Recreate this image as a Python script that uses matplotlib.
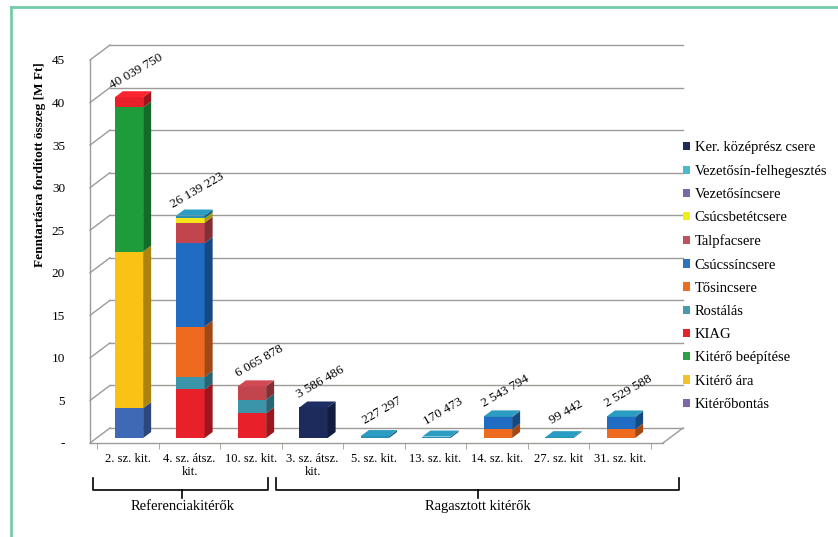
# -*- coding:utf-8 -*-
import numpy as np
import matplotlib
matplotlib.use('Agg')
import matplotlib.pyplot as plt
import matplotlib.transforms as mtransforms
import matplotlib.colors as mcolors
from matplotlib.patches import Polygon, Patch
from matplotlib.lines import Line2D

plt.rcParams['font.family'] = ['Liberation Serif', 'DejaVu Serif']

# kategóriák
categories = ['2. sz. kit.', '4. sz. átsz.\nkit.', '10. sz. kit.', '3. sz. átsz.\nkit.',
              '5. sz. kit.', '13. sz. kit.', '14. sz. kit.', '27. sz. kit', '31. sz. kit.']
totals_ft = [40039750, 26139223, 6065878, 3586486, 227297, 170473, 2543794, 99442, 2529588]

# értékek M Ft-ban (alulról felfelé rakva)
kiterobontas = [3.5, 0, 0, 0, 0, 0, 0, 0, 0]
kitero_ara = [18.4, 0, 0, 0, 0, 0, 0, 0, 0]
kitero_beepitese = [16.94, 0, 0, 0, 0, 0, 0, 0, 0]
kiag = [1.2, 5.7, 2.9, 0, 0, 0, 0, 0, 0]
rostalas = [0, 1.5, 1.6, 0, 0, 0, 0, 0, 0]
tosincsere = [0, 5.9, 0, 0, 0, 0, 1.0, 0, 1.0]
csucssincsere = [0, 9.8, 0, 0, 0, 0, 1.44, 0, 1.43]
talpfacsere = [0, 2.4, 1.57, 0, 0, 0, 0, 0, 0]
csucsbetetcsere = [0, 0.5, 0, 0, 0, 0, 0, 0, 0]
vezetosincsere = [0, 0, 0, 0, 0, 0, 0, 0, 0]
vezetosin_felheg = [0, 0.34, 0, 0, 0.227, 0.170, 0.10, 0.099, 0.10]
ker_kozepresz = [0, 0, 0, 3.586, 0, 0, 0, 0, 0]

series_names = ['Kitérőbontás', 'Kitérő ára', 'Kitérő beépítése', 'KIAG', 'Rostálás',
                'Tősincsere', 'Csúcssíncsere', 'Talpfacsere', 'Csúcsbetétcsere',
                'Vezetősíncsere', 'Vezetősín-felhegesztés', 'Ker. középrész csere']
series_values = [kiterobontas, kitero_ara, kitero_beepitese, kiag, rostalas, tosincsere,
                 csucssincsere, talpfacsere, csucsbetetcsere, vezetosincsere,
                 vezetosin_felheg, ker_kozepresz]
bar_colors = ['#3F68B5', '#FBC216', '#1E9C3C', '#E8202A', '#3A94AA', '#EE6A1E',
              '#1F6CC2', '#C2454E', '#F4E41A', '#7B66A8', '#2890B4', '#1C2A5C']
legend_colors = ['#7A68A8', '#F2C12E', '#2E9E4A', '#E8202A', '#4A9AAE', '#EE6A1E',
                 '#2A74C0', '#C0505A', '#F2EC1A', '#7B66A8', '#4BB8D0', '#1C2A5C']
ytick_labels = ['-', '5', '10', '15', '20', '25', '30', '35', '40', '45']

W, H = 838, 537
fig = plt.figure(figsize=(W / 100, H / 100), dpi=100)
ax = fig.add_axes([90 / W, (H - 443) / H, 573 / W, 383 / H])
xlo, xhi = -0.618, 8.70
ax.set_xlim(xlo, xhi)
ax.set_ylim(0, 45)
ax.set_autoscale_on(False)
for s in ax.spines.values():
    s.set_visible(False)

ident = mtransforms.IdentityTransform()
grid_c = '#9e9a98'
DX, DY = 20, 15      # hátfal eltolás (px)
BX, BY = 1, 5        # oszlop eleje
SX, SY = 8, 6        # oszlop mélysége


def px(x, y, dx=0, dy=0):
    X, Y = ax.transData.transform((x, y))
    return X + dx, Y + dy


def seg(p0, p1, **kw):
    ax.add_line(Line2D([p0[0], p1[0]], [p0[1], p1[1]], transform=ident,
                       clip_on=False, **kw))


# hátfal rácsvonalak + bal fal
for t in range(0, 46, 5):
    seg(px(xlo, t, DX, DY), px(xhi, t, DX, DY), color=grid_c, lw=1, zorder=0.5)
    seg(px(xlo, t), px(xlo, t, DX, DY), color=grid_c, lw=1, zorder=0.5)
seg(px(xlo, 0), px(xlo, 45), color=grid_c, lw=1, zorder=0.5)
seg(px(xlo, 0), px(xhi, 0), color=grid_c, lw=1, zorder=0.5)
seg(px(xhi, 0), px(xhi, 0, DX, DY), color=grid_c, lw=1, zorder=0.5)

# oszlopok
width = 0.46
bar_tr = ax.transData + mtransforms.ScaledTranslation(BX / 100, BY / 100, fig.dpi_scale_trans)
x = np.arange(len(categories))
bottom = np.zeros(len(categories))
top_idx = [max(k for k in range(len(series_values)) if series_values[k][i] > 0)
           for i in range(len(categories))]
for k, (vals, c) in enumerate(zip(series_values, bar_colors)):
    vals = np.array(vals, dtype=float)
    dark = tuple(np.array(mcolors.to_rgb(c)) * 0.68)
    light = tuple(np.clip(np.array(mcolors.to_rgb(c)) * 1.08, 0, 1))
    for i in range(len(categories)):
        v = vals[i]
        if v <= 0:
            continue
        b = bottom[i]
        ax.bar(x[i], v, width=width, bottom=b, color=c, linewidth=0,
               transform=bar_tr, zorder=2)
        xr = x[i] + width / 2
        xl = x[i] - width / 2
        side = [px(xr, b, BX, BY), px(xr, b + v, BX, BY),
                px(xr, b + v, BX + SX, BY + SY), px(xr, b, BX + SX, BY + SY)]
        ax.add_patch(Polygon(side, closed=True, transform=ident, facecolor=dark,
                             edgecolor='none', clip_on=False, zorder=2))
        if k == top_idx[i]:
            tp = [px(xl, b + v, BX, BY), px(xr, b + v, BX, BY),
                  px(xr, b + v, BX + SX, BY + SY), px(xl, b + v, BX + SX, BY + SY)]
            ax.add_patch(Polygon(tp, closed=True, transform=ident, facecolor=light,
                                 edgecolor='none', clip_on=False, zorder=2))
    bottom += vals

# értékcímkék
for i, t in enumerate(totals_ft):
    lab = f'{t:,}'.replace(',', ' ')
    ax.annotate(lab, (x[i], t / 1e6), xytext=(8, 18), textcoords='offset points',
                rotation=30, rotation_mode='anchor', ha='center', va='bottom',
                fontsize=9.5, zorder=3)

# tengelyek
ax.set_yticks(range(0, 46, 5))
ax.set_yticklabels(ytick_labels)
ax.tick_params(axis='y', length=0, pad=18, labelsize=9.5)
ax.set_xticks(x)
ax.set_xticklabels(categories, fontsize=9, linespacing=1.1)
ax.set_xticks(np.arange(-0.5, 9, 1.0), minor=True)
ax.tick_params(axis='x', which='major', length=0, pad=7)
ax.tick_params(axis='x', which='minor', length=4, color=grid_c)

fig.text(39.5 / W, 1 - 165 / H, 'Fenntartásra fordított összeg [M Ft]', rotation=90,
         ha='center', va='center', fontsize=9.5, fontweight='bold')

# kapcsos zárójelek
btr = mtransforms.blended_transform_factory(ax.transData, ax.transAxes)


def brace(x0, x1, xm, label):
    y_top, y_mid, y_tip = -0.092, -0.123, -0.143
    ax.plot([x0, x0, x1, x1], [y_top, y_mid, y_mid, y_top], color='black', lw=1.2,
            transform=btr, clip_on=False)
    ax.plot([xm, xm], [y_mid, y_tip], color='black', lw=1.2, transform=btr, clip_on=False)
    ax.text(xm, -0.165, label, transform=btr, ha='center', va='center', fontsize=10.5)


brace(-0.57, 2.28, 0.88, 'Referenciakitérők')
brace(2.41, 8.96, 5.69, 'Ragasztott kitérők')

# jelmagyarázat
handles = [Patch(facecolor=c, edgecolor='none') for c in legend_colors[::-1]]
fig.legend(handles, series_names[::-1], loc='upper left',
           bbox_to_anchor=(683 / W, 1 - 141 / H), frameon=False, fontsize=10.5,
           handlelength=0.5, handleheight=0.5, handletextpad=0.3,
           labelspacing=0.7, borderpad=0, borderaxespad=0)

# keret
frame_c = '#74CCA8'
fig.add_artist(Line2D([11 / W, 11 / W], [0, 1 - 7 / H], color=frame_c, lw=2))
fig.add_artist(Line2D([11 / W, 1], [1 - 7 / H, 1 - 7 / H], color=frame_c, lw=2))

fig.savefig('out.png', dpi=100)
